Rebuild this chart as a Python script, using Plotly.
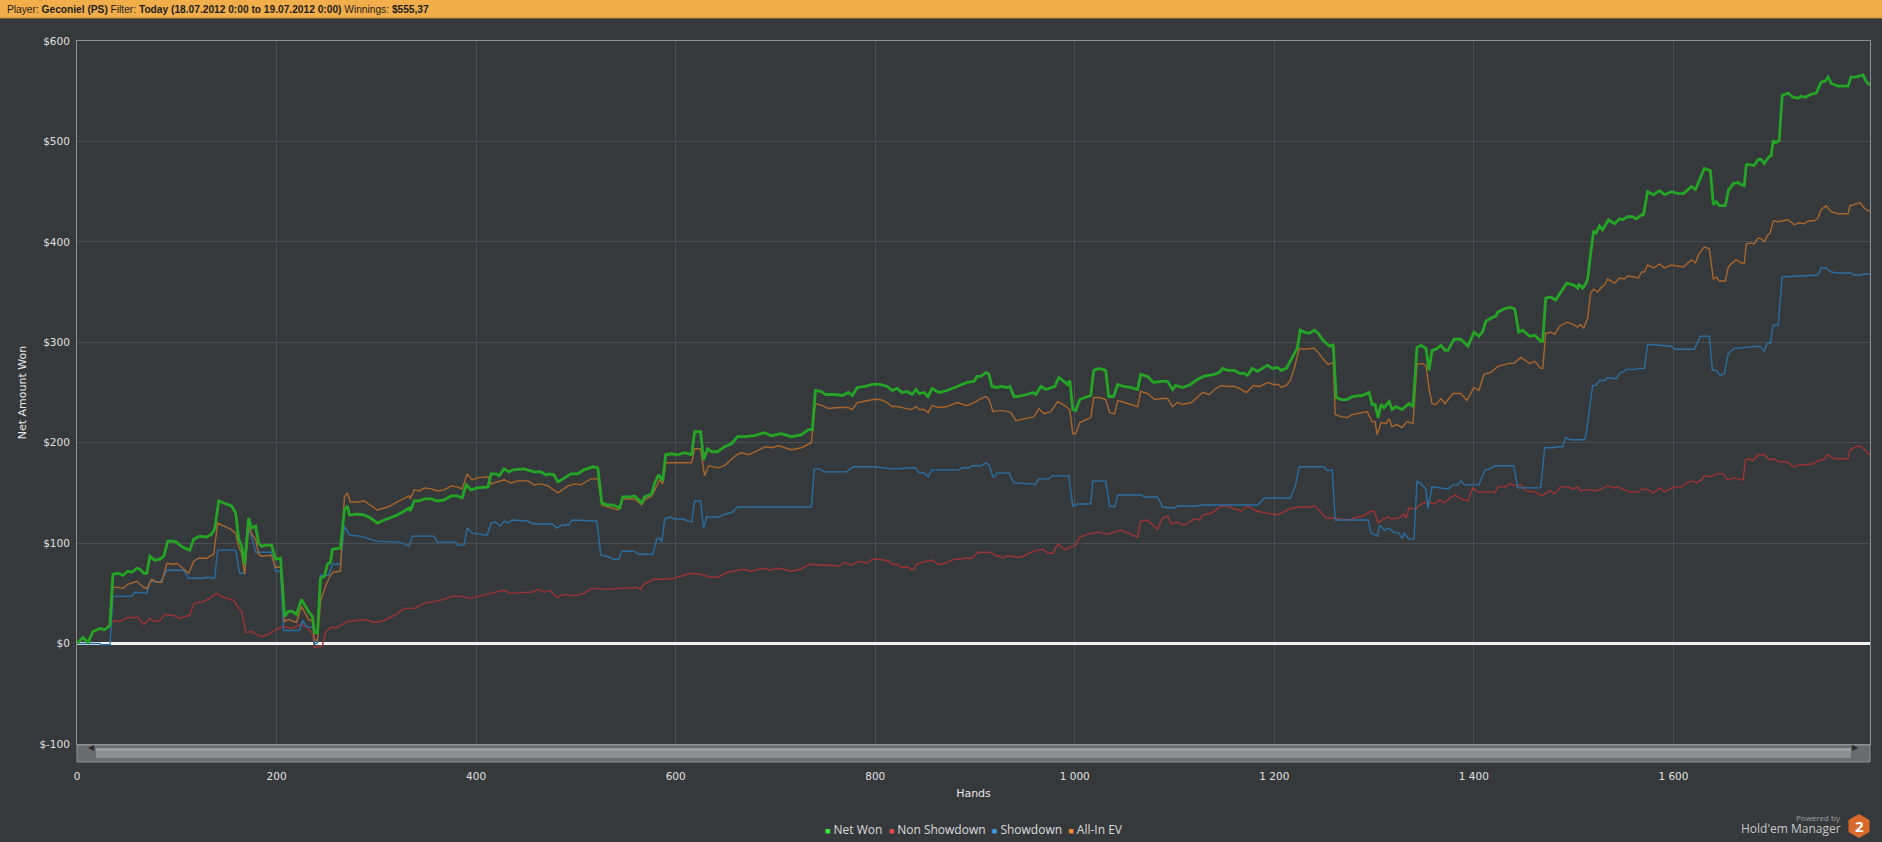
import plotly.graph_objects as go

# Net Won (green)
net_won_hands = [0, 6, 11, 16, 23, 28, 33, 36, 41, 46, 51, 55, 60, 63, 67, 70, 73, 78, 83, 87, 91, 95, 100, 103, 108, 113, 117, 123, 130, 135, 138, 142, 147, 155, 159, 162, 165, 168, 172, 175, 179, 182, 185, 190, 195, 199, 204, 208, 212, 216, 220, 225, 229, 232, 236, 238, 241, 244, 248, 251, 254, 256, 264, 268, 271, 273, 281, 288, 294, 301, 308, 314, 321, 328, 333, 334, 338, 343, 348, 355, 361, 368, 375, 381, 386, 390, 395, 401, 412, 415, 420, 423, 428, 433, 437, 448, 458, 465, 470, 473, 478, 482, 488, 495, 502, 508, 517, 522, 526, 532, 537, 544, 547, 554, 559, 566, 569, 576, 579, 583, 587, 590, 596, 602, 609, 616, 619, 625, 628, 632, 636, 642, 649, 656, 662, 669, 679, 689, 696, 706, 716, 726, 733, 737, 740, 746, 750, 760, 767, 773, 777, 782, 790, 797, 805, 812, 817, 822, 827, 832, 837, 841, 844, 849, 853, 857, 864, 872, 882, 892, 899, 902, 906, 911, 914, 917, 922, 927, 932, 935, 939, 942, 952, 958, 961, 966, 971, 976, 980, 984, 989, 993, 995, 998, 1001, 1005, 1010, 1016, 1019, 1024, 1031, 1034, 1039, 1043, 1049, 1056, 1063, 1066, 1073, 1079, 1086, 1093, 1098, 1101, 1108, 1116, 1123, 1129, 1134, 1140, 1145, 1148, 1153, 1160, 1165, 1170, 1173, 1178, 1183, 1193, 1198, 1203, 1207, 1212, 1218, 1223, 1226, 1230, 1235, 1240, 1244, 1248, 1252, 1256, 1259, 1262, 1267, 1273, 1278, 1288, 1295, 1298, 1301, 1304, 1307, 1310, 1315, 1318, 1322, 1328, 1335, 1339, 1343, 1347, 1352, 1355, 1358, 1362, 1367, 1371, 1374, 1380, 1387, 1394, 1400, 1405, 1409, 1412, 1417, 1422, 1424, 1430, 1436, 1441, 1445, 1449, 1456, 1461, 1467, 1469, 1472, 1477, 1482, 1487, 1489, 1493, 1500, 1504, 1505, 1509, 1512, 1514, 1517, 1520, 1522, 1526, 1529, 1531, 1535, 1541, 1546, 1549, 1554, 1559, 1563, 1568, 1570, 1574, 1580, 1586, 1591, 1598, 1605, 1610, 1618, 1622, 1626, 1631, 1637, 1640, 1643, 1646, 1652, 1655, 1660, 1665, 1668, 1671, 1673, 1676, 1681, 1685, 1688, 1691, 1695, 1698, 1700, 1703, 1706, 1709, 1715, 1720, 1725, 1728, 1732, 1738, 1743, 1748, 1752, 1755, 1758, 1765, 1775, 1778, 1782, 1788, 1790, 1793, 1797]
net_won_values = [0, 6, 1, 12, 15, 14, 18, 69, 70, 68, 72, 71, 75, 74, 70, 70, 87, 83, 84, 87, 102, 102, 101, 98, 95, 93, 104, 107, 106, 109, 114, 142, 140, 137, 130, 104, 97, 79, 125, 115, 117, 100, 97, 98, 98, 84, 85, 27, 32, 32, 29, 44, 37, 32, 27, 11, 11, 65, 67, 79, 81, 94, 95, 133, 137, 128, 129, 128, 125, 120, 123, 125, 128, 132, 135, 132, 142, 142, 144, 144, 142, 143, 147, 147, 145, 158, 153, 155, 156, 169, 169, 167, 174, 171, 173, 174, 171, 171, 168, 169, 168, 161, 165, 169, 169, 173, 176, 175, 140, 138, 138, 135, 146, 146, 147, 140, 146, 149, 160, 168, 162, 188, 189, 188, 190, 188, 211, 211, 183, 194, 191, 191, 196, 199, 206, 206, 207, 210, 207, 209, 206, 208, 213, 213, 252, 251, 248, 248, 247, 250, 247, 255, 256, 258, 258, 256, 252, 254, 250, 251, 248, 253, 249, 250, 246, 254, 250, 252, 256, 260, 261, 266, 266, 270, 268, 256, 255, 256, 255, 256, 246, 246, 248, 250, 248, 256, 253, 255, 256, 265, 261, 258, 262, 233, 232, 243, 245, 247, 272, 274, 272, 246, 246, 258, 256, 255, 253, 268, 266, 260, 261, 261, 253, 257, 255, 258, 263, 266, 267, 268, 270, 274, 272, 272, 269, 269, 267, 274, 271, 277, 274, 275, 272, 274, 285, 294, 312, 310, 309, 312, 309, 303, 299, 296, 298, 245, 243, 243, 246, 247, 250, 238, 238, 225, 238, 235, 241, 233, 236, 233, 239, 236, 295, 297, 294, 272, 292, 293, 297, 292, 292, 303, 303, 296, 310, 306, 311, 321, 324, 326, 330, 333, 335, 333, 310, 312, 306, 307, 301, 301, 344, 345, 342, 350, 352, 359, 357, 354, 358, 354, 358, 363, 388, 411, 408, 416, 412, 415, 422, 418, 423, 422, 425, 425, 423, 427, 427, 450, 447, 451, 447, 450, 448, 448, 455, 452, 462, 473, 471, 437, 440, 436, 436, 451, 458, 459, 457, 456, 477, 477, 476, 482, 482, 478, 484, 486, 500, 499, 501, 546, 548, 544, 543, 545, 544, 547, 548, 559, 560, 564, 558, 555, 555, 564, 564, 566, 566, 560, 556]

# Non Showdown (red)
non_showdown_hands = [0, 6, 11, 16, 23, 28, 33, 38, 43, 51, 61, 67, 73, 78, 83, 88, 97, 103, 108, 113, 117, 127, 133, 140, 147, 154, 157, 162, 165, 169, 175, 180, 185, 192, 199, 207, 215, 224, 230, 236, 238, 246, 249, 254, 261, 264, 271, 281, 289, 298, 308, 318, 328, 338, 348, 358, 368, 376, 385, 395, 405, 414, 428, 434, 448, 455, 463, 468, 474, 477, 481, 488, 494, 501, 508, 516, 531, 541, 551, 561, 565, 568, 578, 588, 598, 605, 615, 625, 635, 642, 652, 668, 675, 688, 695, 701, 708, 716, 725, 734, 745, 755, 764, 769, 776, 782, 785, 792, 797, 804, 809, 814, 817, 822, 826, 833, 836, 839, 841, 847, 856, 859, 863, 867, 872, 880, 885, 889, 897, 903, 914, 917, 922, 925, 928, 931, 937, 941, 946, 953, 959, 968, 973, 978, 983, 988, 991, 995, 1000, 1005, 1013, 1023, 1033, 1046, 1056, 1063, 1066, 1073, 1076, 1083, 1088, 1093, 1097, 1102, 1110, 1120, 1125, 1128, 1137, 1147, 1153, 1160, 1167, 1173, 1182, 1194, 1202, 1207, 1215, 1224, 1234, 1241, 1247, 1252, 1261, 1265, 1274, 1280, 1289, 1295, 1300, 1304, 1309, 1314, 1317, 1322, 1325, 1330, 1332, 1335, 1342, 1347, 1354, 1360, 1366, 1370, 1376, 1381, 1387, 1394, 1399, 1404, 1417, 1421, 1424, 1431, 1436, 1442, 1447, 1452, 1461, 1468, 1476, 1481, 1487, 1494, 1500, 1504, 1507, 1512, 1517, 1521, 1526, 1528, 1534, 1541, 1544, 1551, 1556, 1561, 1565, 1568, 1575, 1580, 1586, 1591, 1601, 1608, 1615, 1620, 1623, 1628, 1631, 1638, 1643, 1650, 1654, 1660, 1665, 1670, 1672, 1676, 1680, 1685, 1691, 1696, 1701, 1706, 1713, 1721, 1726, 1733, 1740, 1745, 1750, 1755, 1761, 1775, 1777, 1786, 1791, 1795, 1797]
non_showdown_values = [0, 6, 1, 12, 15, 14, 20, 23, 22, 26, 26, 19, 25, 22, 23, 29, 28, 25, 27, 28, 40, 42, 45, 50, 46, 44, 43, 35, 32, 11, 12, 9, 7, 9, 14, 17, 15, 19, 17, 10, -4, -2, 11, 16, 16, 18, 22, 23, 24, 21, 23, 28, 35, 35, 40, 42, 44, 47, 47, 45, 48, 50, 53, 50, 51, 51, 54, 51, 53, 50, 46, 49, 48, 48, 50, 55, 54, 55, 55, 56, 54, 59, 64, 64, 65, 67, 70, 69, 66, 66, 71, 74, 72, 75, 73, 75, 74, 72, 74, 79, 78, 78, 77, 81, 78, 81, 82, 80, 84, 84, 83, 82, 79, 79, 76, 76, 74, 74, 79, 81, 83, 82, 79, 79, 81, 84, 84, 85, 85, 91, 91, 90, 87, 87, 85, 87, 87, 86, 86, 89, 92, 94, 90, 90, 99, 95, 93, 96, 97, 106, 109, 111, 109, 113, 109, 106, 122, 123, 120, 114, 125, 127, 119, 121, 118, 124, 123, 128, 130, 137, 137, 134, 132, 137, 132, 130, 128, 130, 134, 136, 136, 137, 130, 125, 125, 124, 123, 125, 127, 131, 132, 120, 124, 126, 124, 125, 125, 129, 125, 135, 134, 139, 141, 139, 143, 140, 145, 148, 144, 142, 155, 151, 151, 150, 156, 156, 159, 157, 158, 152, 151, 147, 152, 149, 156, 156, 154, 156, 152, 153, 153, 152, 153, 154, 157, 155, 156, 153, 151, 151, 151, 154, 153, 150, 155, 151, 156, 156, 161, 162, 160, 163, 167, 166, 169, 169, 163, 165, 164, 163, 183, 184, 182, 188, 188, 183, 184, 181, 181, 176, 178, 178, 179, 182, 183, 188, 184, 184, 193, 197, 194, 189, 189]

# Showdown (blue)
showdown_hands = [0, 23, 24, 33, 36, 55, 58, 70, 73, 83, 88, 90, 107, 112, 125, 130, 138, 141, 159, 163, 168, 172, 175, 179, 195, 199, 204, 207, 223, 226, 230, 237, 238, 241, 244, 252, 256, 264, 268, 273, 284, 290, 300, 323, 333, 336, 358, 361, 380, 381, 388, 391, 396, 411, 415, 419, 424, 428, 432, 436, 451, 458, 476, 481, 486, 493, 496, 521, 525, 531, 538, 543, 546, 558, 563, 577, 581, 584, 586, 589, 595, 599, 607, 616, 619, 625, 628, 631, 644, 647, 654, 657, 662, 736, 739, 744, 749, 771, 778, 799, 818, 840, 844, 849, 853, 857, 884, 887, 894, 897, 906, 911, 914, 918, 920, 922, 934, 939, 957, 960, 964, 974, 977, 994, 998, 1003, 1016, 1018, 1031, 1035, 1040, 1043, 1066, 1070, 1083, 1088, 1100, 1103, 1123, 1126, 1183, 1190, 1216, 1221, 1225, 1250, 1253, 1258, 1261, 1294, 1297, 1303, 1306, 1310, 1315, 1319, 1325, 1328, 1330, 1335, 1340, 1343, 1347, 1352, 1354, 1358, 1374, 1379, 1384, 1387, 1391, 1405, 1411, 1416, 1421, 1440, 1444, 1467, 1471, 1479, 1484, 1489, 1492, 1497, 1511, 1513, 1519, 1522, 1526, 1531, 1534, 1539, 1543, 1546, 1549, 1553, 1561, 1566, 1571, 1574, 1598, 1601, 1621, 1627, 1636, 1639, 1643, 1647, 1651, 1655, 1661, 1678, 1685, 1688, 1691, 1694, 1697, 1700, 1705, 1709, 1735, 1745, 1748, 1753, 1758, 1765, 1778, 1781, 1788, 1791, 1797]
showdown_values = [0, 0, -1, -1, 47, 47, 51, 50, 62, 61, 69, 73, 73, 65, 65, 66, 65, 93, 93, 70, 70, 115, 107, 91, 91, 72, 72, 13, 13, 23, 17, 16, -1, 1, 68, 68, 79, 79, 117, 108, 107, 105, 102, 101, 97, 107, 107, 101, 101, 98, 98, 115, 110, 108, 120, 121, 117, 122, 120, 123, 122, 119, 119, 115, 118, 118, 123, 122, 88, 87, 84, 84, 92, 92, 89, 89, 104, 105, 101, 124, 126, 124, 124, 121, 142, 142, 115, 126, 126, 128, 130, 131, 136, 136, 174, 174, 171, 171, 176, 176, 174, 175, 170, 170, 166, 173, 173, 175, 175, 177, 177, 180, 178, 166, 166, 170, 170, 160, 159, 158, 164, 164, 167, 167, 137, 139, 139, 162, 162, 137, 136, 148, 148, 146, 146, 136, 135, 137, 137, 138, 138, 145, 145, 157, 176, 176, 172, 173, 123, 123, 110, 107, 118, 113, 115, 111, 110, 105, 110, 104, 104, 162, 159, 154, 134, 156, 154, 158, 158, 162, 158, 158, 173, 174, 177, 177, 155, 155, 195, 195, 196, 196, 205, 203, 203, 211, 257, 257, 262, 262, 265, 264, 264, 269, 270, 273, 273, 274, 274, 298, 296, 293, 293, 306, 306, 272, 272, 267, 269, 289, 294, 295, 296, 295, 291, 299, 299, 317, 317, 365, 366, 367, 374, 374, 370, 369, 369, 367, 367, 368, 368]

# All-In EV (orange)
all_in_ev_hands = [0, 6, 11, 16, 23, 28, 33, 36, 41, 46, 51, 60, 63, 67, 70, 75, 80, 85, 90, 97, 100, 107, 112, 117, 122, 130, 137, 141, 147, 154, 159, 162, 165, 168, 172, 175, 179, 182, 185, 195, 199, 204, 208, 212, 217, 220, 225, 229, 232, 236, 238, 241, 244, 249, 254, 257, 264, 268, 271, 274, 281, 288, 294, 301, 308, 314, 321, 328, 333, 334, 338, 343, 348, 355, 361, 368, 375, 381, 386, 391, 396, 401, 412, 415, 428, 435, 442, 452, 458, 465, 472, 482, 492, 499, 505, 515, 522, 526, 532, 542, 547, 559, 566, 569, 576, 581, 584, 587, 590, 596, 606, 616, 619, 625, 629, 633, 643, 650, 661, 666, 673, 683, 690, 696, 703, 716, 726, 736, 740, 747, 753, 763, 773, 777, 782, 788, 798, 805, 812, 817, 822, 827, 836, 841, 844, 849, 853, 857, 864, 872, 882, 892, 899, 906, 911, 914, 918, 923, 928, 933, 936, 941, 949, 959, 964, 969, 976, 983, 990, 995, 998, 1001, 1005, 1010, 1016, 1019, 1025, 1031, 1035, 1040, 1043, 1050, 1063, 1066, 1073, 1080, 1087, 1093, 1098, 1103, 1108, 1117, 1123, 1128, 1135, 1140, 1147, 1153, 1160, 1165, 1172, 1179, 1185, 1194, 1199, 1204, 1207, 1212, 1216, 1220, 1225, 1230, 1240, 1244, 1249, 1254, 1259, 1261, 1267, 1273, 1278, 1288, 1293, 1298, 1301, 1303, 1307, 1312, 1315, 1318, 1323, 1328, 1333, 1339, 1343, 1348, 1352, 1355, 1358, 1362, 1367, 1371, 1379, 1387, 1393, 1400, 1405, 1410, 1417, 1424, 1435, 1440, 1447, 1456, 1461, 1467, 1469, 1472, 1477, 1481, 1486, 1493, 1499, 1504, 1507, 1510, 1514, 1517, 1520, 1524, 1528, 1531, 1534, 1541, 1546, 1551, 1554, 1561, 1565, 1568, 1571, 1574, 1580, 1586, 1591, 1598, 1610, 1618, 1622, 1625, 1631, 1636, 1640, 1643, 1646, 1652, 1655, 1660, 1663, 1668, 1671, 1673, 1678, 1681, 1685, 1688, 1691, 1694, 1697, 1700, 1705, 1710, 1715, 1721, 1726, 1731, 1736, 1741, 1745, 1748, 1753, 1758, 1765, 1775, 1777, 1781, 1787, 1791, 1795, 1797]
all_in_ev_values = [0, 6, 1, 12, 15, 14, 18, 56, 56, 55, 59, 62, 59, 56, 55, 64, 61, 61, 80, 79, 80, 74, 70, 82, 85, 85, 89, 120, 117, 114, 110, 97, 90, 69, 117, 109, 104, 89, 87, 88, 76, 76, 22, 24, 22, 21, 37, 29, 24, 22, 4, 3, 42, 57, 68, 71, 72, 146, 150, 141, 141, 142, 138, 133, 135, 137, 141, 145, 147, 144, 153, 152, 155, 154, 152, 153, 157, 156, 154, 169, 163, 165, 166, 159, 163, 160, 162, 162, 158, 159, 157, 150, 157, 159, 158, 164, 164, 138, 136, 133, 144, 144, 138, 143, 147, 158, 163, 159, 180, 180, 180, 180, 194, 194, 167, 177, 175, 178, 188, 190, 188, 193, 196, 195, 197, 193, 195, 200, 239, 237, 234, 235, 235, 233, 240, 241, 243, 243, 240, 236, 236, 235, 233, 236, 233, 233, 230, 237, 235, 236, 240, 237, 240, 244, 246, 243, 231, 232, 232, 231, 230, 222, 224, 226, 234, 229, 231, 241, 237, 233, 209, 209, 220, 222, 225, 245, 245, 243, 230, 229, 242, 240, 236, 251, 249, 243, 244, 244, 236, 240, 238, 240, 245, 250, 248, 253, 257, 256, 256, 254, 250, 257, 256, 260, 258, 258, 255, 257, 262, 274, 294, 293, 294, 290, 283, 278, 280, 228, 226, 225, 228, 230, 231, 221, 221, 208, 220, 219, 224, 216, 218, 215, 221, 219, 278, 279, 277, 254, 239, 238, 244, 239, 249, 249, 242, 255, 252, 268, 270, 276, 279, 279, 285, 279, 281, 274, 274, 309, 310, 308, 316, 320, 318, 315, 318, 314, 324, 349, 353, 350, 355, 357, 363, 359, 364, 363, 366, 365, 364, 370, 370, 377, 374, 378, 374, 377, 375, 382, 379, 387, 395, 393, 363, 365, 361, 361, 375, 380, 382, 379, 379, 398, 399, 398, 404, 403, 400, 406, 409, 421, 420, 421, 422, 417, 419, 418, 421, 421, 424, 432, 436, 430, 428, 428, 436, 437, 439, 434, 431, 431]

series_names = ['Net Won', 'Non Showdown', 'Showdown', 'All-In EV']
legend_colors = ['#3ee83e', '#e84a4a', '#3b9be6', '#f0892c']

x_tick_vals = [0, 200, 400, 600, 800, 1000, 1200, 1400, 1600]
x_tick_text = ['0', '200', '400', '600', '800', '1 000', '1 200', '1 400', '1 600']
y_tick_vals = [-100, 0, 100, 200, 300, 400, 500, 600]
y_tick_text = ['$-100', '$0', '$100', '$200', '$300', '$400', '$500', '$600']

W, H = 1882, 842
L, R, T, B = 77, 12, 41, 98
PW, PH = W - L - R, H - T - B


def px(x):
    return (x - L) / PW


def py(y):
    return (H - B - y) / PH


BG = '#36393c'
GRID = '#4a4d51'
AXIS = '#8e9092'

fig = go.Figure()

fig.add_trace(go.Scatter(x=non_showdown_hands, y=non_showdown_values, mode='lines',
                         line=dict(color='#9e3333', width=1.4), showlegend=False, hoverinfo='skip'))
fig.add_trace(go.Scatter(x=showdown_hands, y=showdown_values, mode='lines',
                         line=dict(color='#2a6ea1', width=1.4), showlegend=False, hoverinfo='skip'))
fig.add_trace(go.Scatter(x=all_in_ev_hands, y=all_in_ev_values, mode='lines',
                         line=dict(color='#a8652c', width=1.4), showlegend=False, hoverinfo='skip'))
fig.add_trace(go.Scatter(x=net_won_hands, y=net_won_values, mode='lines',
                         line=dict(color='#25a525', width=2.8), showlegend=False, hoverinfo='skip'))

# legend drawn as one line of text with coloured squares
legend_text = '&nbsp;&nbsp;'.join(
    '<span style="color:{};font-size:9px">■</span> {}'.format(col, name)
    for name, col in zip(series_names, legend_colors))

shapes = [
    # header bar
    dict(type='rect', xref='paper', yref='paper', x0=px(0), x1=px(W), y0=py(18), y1=py(0),
         fillcolor='#f2ae4a', line=dict(width=0), layer='above'),
    dict(type='line', xref='paper', yref='paper', x0=px(0), x1=px(W), y0=py(18), y1=py(18),
         line=dict(color='#c98a30', width=1), layer='above'),
    # scrollbar
    dict(type='rect', xref='paper', yref='paper', x0=px(L), x1=px(W - R), y0=py(762), y1=py(745),
         fillcolor='#6a6d70', line=dict(color=AXIS, width=1), layer='above'),
    dict(type='rect', xref='paper', yref='paper', x0=px(L + 19), x1=px(W - R - 19), y0=py(758), y1=py(748),
         fillcolor='#8d9092', line=dict(width=0), layer='above'),
    dict(type='rect', xref='paper', yref='paper', x0=px(L + 19), x1=px(W - R - 19), y0=py(751), y1=py(748),
         fillcolor='#9a9d9f', line=dict(width=0), layer='above'),
    # logo hexagon
    dict(type='path', xref='paper', yref='paper', fillcolor='#d8692c', line=dict(width=0),
         path='M {} {} L {} {} L {} {} L {} {} L {} {} L {} {} Z'.format(
             px(1859), py(814), px(1869.5), py(820), px(1869.5), py(832),
             px(1859), py(838), px(1848.5), py(832), px(1848.5), py(820))),
]

annotations = [
    dict(xref='paper', yref='paper', x=px(5), y=py(9), xanchor='left', yanchor='middle', showarrow=False,
         text='Player: <b>Geconiel (PS)</b> Filter: <b>Today (18.07.2012 0:00 to 19.07.2012 0:00)</b> Winnings: <b>$555,37</b>',
         font=dict(family='Liberation Sans', size=10.2, color='#1e1e1e')),
    dict(xref='paper', yref='paper', x=px(L + 9), y=py(753.5), showarrow=False, text='◀',
         font=dict(size=8, color='#2a2a2a')),
    dict(xref='paper', yref='paper', x=px(W - R - 9), y=py(753.5), showarrow=False, text='▶',
         font=dict(size=8, color='#2a2a2a')),
    dict(xref='paper', yref='paper', x=px(1843), y=py(817), xanchor='right', yanchor='middle', showarrow=False,
         text='Powered by', font=dict(family='Open Sans', size=8, color='#a0a0a0')),
    dict(xref='paper', yref='paper', x=px(1843), y=py(828), xanchor='right', yanchor='middle', showarrow=False,
         text="Hold'em Manager", font=dict(family='Open Sans', size=12, color='#c8c8c8')),
    dict(xref='paper', yref='paper', x=px(1859), y=py(826), xanchor='center', yanchor='middle', showarrow=False,
         text='<b>2</b>', font=dict(family='Open Sans', size=15, color='#ffffff')),
    dict(xref='paper', yref='paper', x=0.5, y=py(829), xanchor='center', yanchor='middle', showarrow=False,
         text=legend_text, font=dict(family='Open Sans', size=12, color='#dcdcdc')),
]

fig.update_layout(
    width=W, height=H,
    margin=dict(l=L, r=R, t=T, b=B),
    paper_bgcolor=BG, plot_bgcolor=BG,
    font=dict(family='DejaVu Sans', color='#dedede'),
    showlegend=False,
    xaxis=dict(range=[0, 1797], tickvals=x_tick_vals, ticktext=x_tick_text, automargin=False,
               showgrid=True, gridcolor=GRID, gridwidth=1, zeroline=False,
               showline=True, linecolor=AXIS, linewidth=1, mirror=True,
               ticks='', ticklabelstandoff=22, tickfont=dict(size=10.5, color='#e0e0e0'),
               title=dict(text='Hands', standoff=8, font=dict(size=11, color='#e6e6e6'))),
    yaxis=dict(range=[-100, 600], tickvals=y_tick_vals, ticktext=y_tick_text, automargin=False,
               showgrid=True, gridcolor=GRID, gridwidth=1,
               zeroline=True, zerolinecolor='#f2f2f2', zerolinewidth=2.5,
               showline=True, linecolor=AXIS, linewidth=1, mirror=True,
               ticks='', ticklabelstandoff=4, tickfont=dict(size=10.5, color='#e0e0e0'),
               title=dict(text='Net Amount Won', standoff=10, font=dict(size=11, color='#e6e6e6'))),
    shapes=shapes,
    annotations=annotations,
)

fig.write_html('out.html', config={'displayModeBar': False},
               post_script="document.body.style.margin='0';document.body.style.overflow='hidden';")
